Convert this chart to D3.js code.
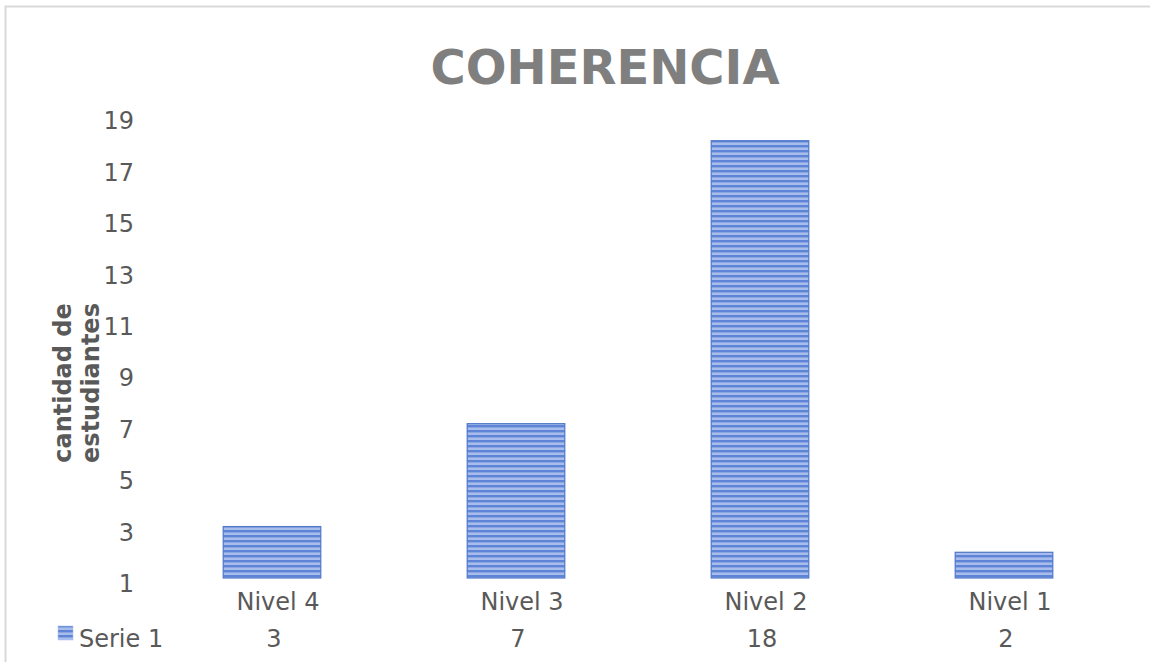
<!DOCTYPE html>
<html><head><meta charset="utf-8">
<script src="https://cdn.jsdelivr.net/npm/d3@7/dist/d3.min.js"></script>
<style>body{margin:0;background:#fff;font-family:"DejaVu Sans",sans-serif;}</style>
</head><body>
<svg id="c" width="1150" height="662"></svg>
<script>
const categories = ["Nivel 4", "Nivel 3", "Nivel 2", "Nivel 1"];
const values = [3, 7, 18, 2];
const seriesName = "Serie 1";
const yTicks = [1, 3, 5, 7, 9, 11, 13, 15, 17, 19];
const title = "COHERENCIA";
const yTitle = ["cantidad de", "estudiantes"];

const svg = d3.select("#c");
const textCol = "#595959";
const fs = 24;

// outer border
svg.append("rect").attr("x", 5.5).attr("y", 6.5).attr("width", 1160).attr("height", 680)
  .attr("fill", "#fff").attr("stroke", "#d9d9d9").attr("stroke-width", 2);

// pattern
const defs = svg.append("defs");
const pat = defs.append("pattern").attr("id", "stripes").attr("patternUnits", "userSpaceOnUse")
  .attr("width", 10).attr("height", 5);
pat.append("rect").attr("width", 10).attr("height", 5).attr("fill", "#a8bdeb");
pat.append("rect").attr("y", 0).attr("width", 10).attr("height", 2.4).attr("fill", "#5d84d6");

const x = d3.scaleBand().domain(categories).range([150, 1126]).paddingInner(0.6).paddingOuter(0.3);
const y = d3.scaleLinear().domain([1, 19]).range([578, 115]);

// title
svg.append("text").attr("x", 605).attr("y", 84).attr("text-anchor", "middle")
  .attr("font-size", 48).attr("font-weight", "bold").attr("fill", "#7f7f7f").text(title);

// y axis labels
const yAxis = d3.axisLeft(y).tickValues(yTicks).tickSize(0).tickPadding(0);
const gy = svg.append("g").attr("transform", "translate(134,6)").call(yAxis);
gy.select(".domain").remove();
gy.selectAll("text").attr("font-size", fs).attr("fill", textCol).attr("font-family", "DejaVu Sans, sans-serif");

// y title
const yt = svg.append("text").attr("transform", "translate(0,383) rotate(-90)")
  .attr("text-anchor", "middle").attr("font-size", fs).attr("font-weight", "bold").attr("fill", textCol);
yt.append("tspan").attr("x", 0).attr("y", 71).text(yTitle[0]);
yt.append("tspan").attr("x", 0).attr("y", 99).text(yTitle[1]);

// bars
svg.append("g").selectAll("rect").data(values).join("rect")
  .attr("x", (d, i) => x(categories[i]))
  .attr("width", x.bandwidth())
  .attr("y", d => y(d))
  .attr("height", d => y(1) - y(d))
  .attr("fill", "url(#stripes)")
  .attr("stroke", "#4f78c8").attr("stroke-width", 1.2);

// data table: categories
svg.append("g").selectAll("text").data(categories).join("text")
  .attr("x", d => x(d) + x.bandwidth() / 2 + 6).attr("y", 610)
  .attr("text-anchor", "middle").attr("font-size", fs).attr("fill", textCol).text(d => d);

svg.append("g").selectAll("text").data(values).join("text")
  .attr("x", (d, i) => x(categories[i]) + x.bandwidth() / 2 + 2).attr("y", 647)
  .attr("text-anchor", "middle").attr("font-size", fs).attr("fill", textCol).text(d => d);

// legend key
svg.append("rect").attr("x", 58).attr("y", 626).attr("width", 15).attr("height", 14)
  .attr("fill", "url(#stripes)").attr("stroke", "#a8bdeb").attr("stroke-width", 0.5);
svg.append("text").attr("x", 79).attr("y", 647).attr("font-size", fs).attr("fill", textCol).text(seriesName);
</script>
</body></html>
